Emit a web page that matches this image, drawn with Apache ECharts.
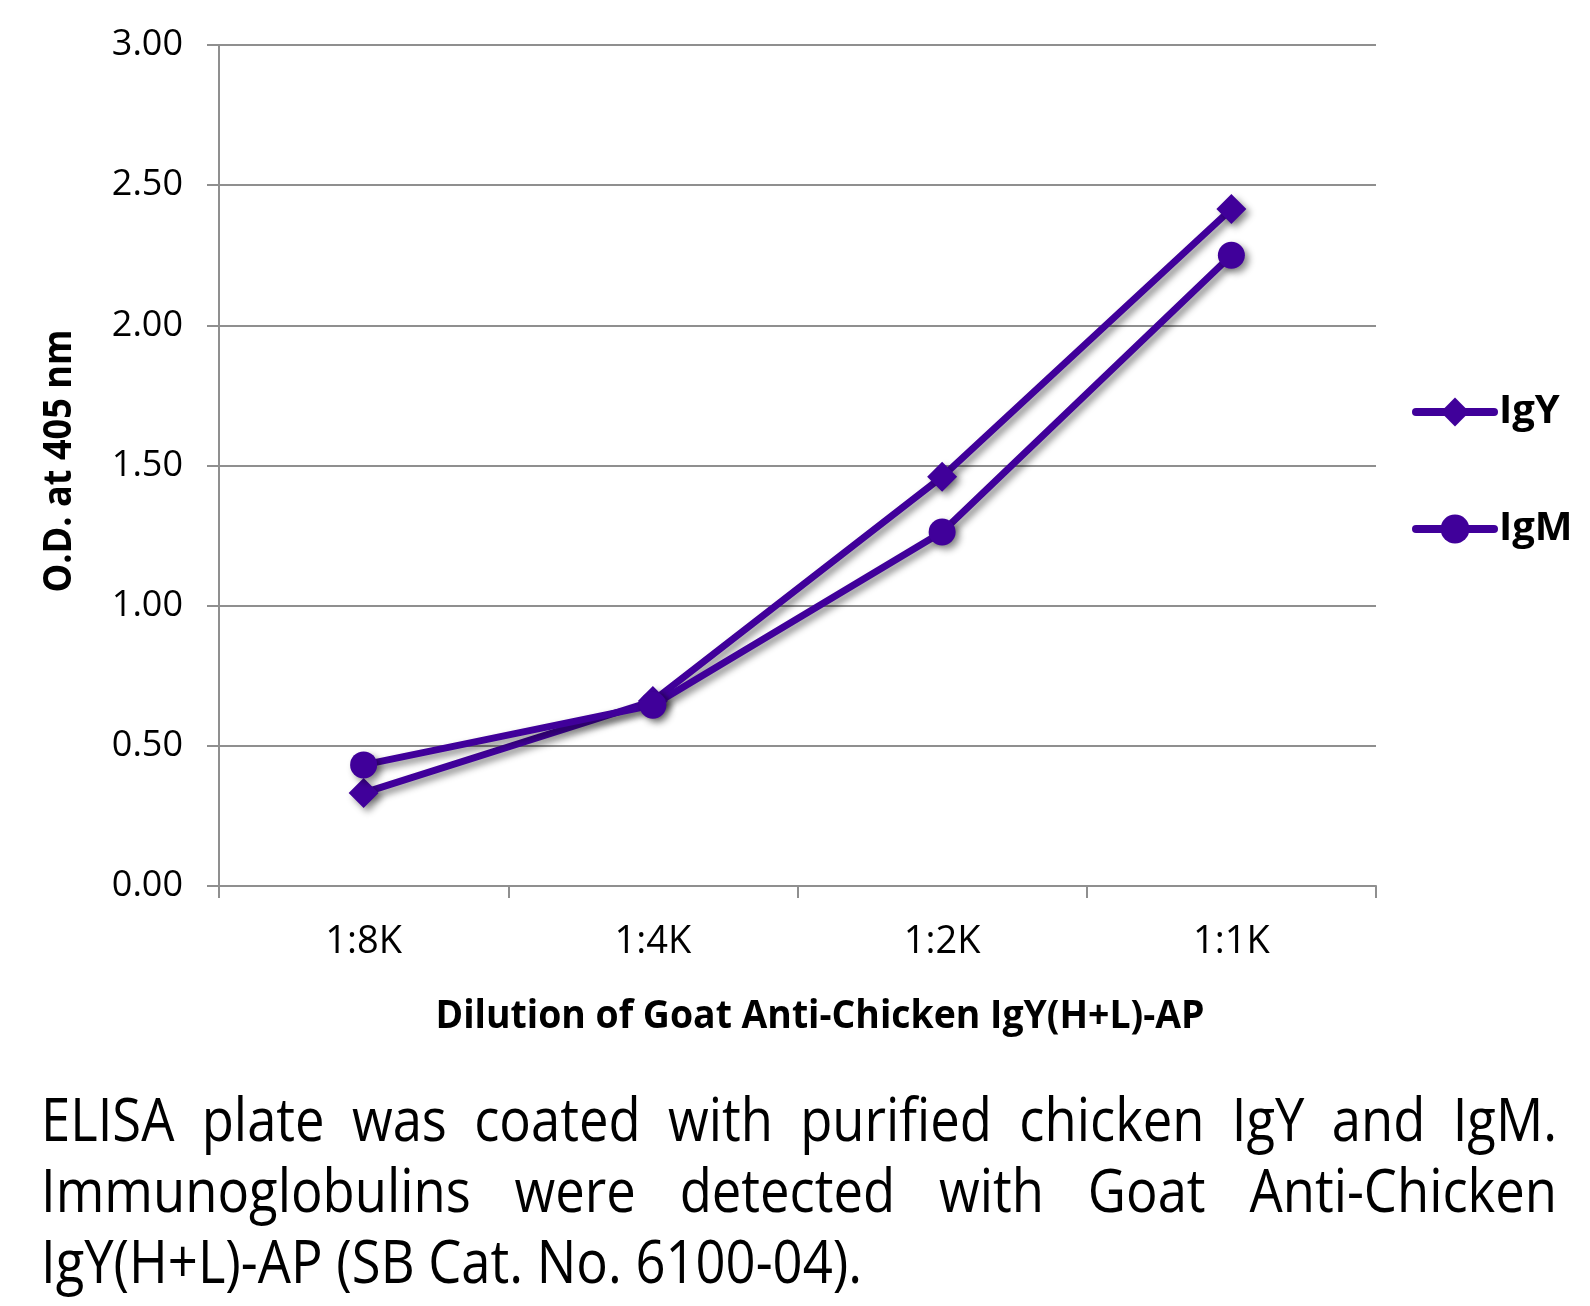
<!DOCTYPE html>
<html><head><meta charset="utf-8">
<script src="https://cdn.jsdelivr.net/npm/echarts@6/dist/echarts.min.js"></script>
<style>
html,body{margin:0;padding:0;background:#fff;}
#chart{position:absolute;left:0;top:0;width:1590px;height:1306px;}
.cap{position:absolute;left:41px;font-family:"Open Sans";font-size:60px;line-height:71px;color:#000;white-space:nowrap;transform-origin:0 0;}
.just{text-align:justify;text-align-last:justify;}
</style></head><body>
<div id="chart"></div>
<div id="caption"></div>
<script>
// ---- data ----
const categories = ['1:8K', '1:4K', '1:2K', '1:1K'];
const igYValues = [0.332, 0.66, 1.46, 2.415];
const igMValues = [0.432, 0.645, 1.263, 2.25];
const seriesNames = ['IgY', 'IgM'];
const yMin = 0, yMax = 3, yStep = 0.5;
const xTitle = 'Dilution of Goat Anti-Chicken IgY(H+L)-AP';
const yTitle = 'O.D. at 405 nm';
const captionLines = [
  'ELISA plate was coated with purified chicken IgY and IgM.',
  'Immunoglobulins were detected with Goat Anti-Chicken',
  'IgY(H+L)-AP (SB Cat. No. 6100-04).'
];

// ---- helpers ----
const cv = document.createElement('canvas').getContext('2d');
function measure(text, font) { cv.font = font; return cv.measureText(text).width; }

const LINE = '#40009a';
const GRAY = '#8f8f8f';
const titleFont = 'bold 40px "Open Sans"';
const sxX = 769 / measure(xTitle, titleFont);
const sxY = 263 / measure(yTitle, titleFont);

// ---- caption ----
const capFont = '60px "Open Sans"';
const capScale = 821 / measure(captionLines[2], capFont);
const capWidth = 1516;
const capHolder = document.getElementById('caption');
captionLines.forEach((t, i) => {
  const d = document.createElement('div');
  d.className = 'cap' + (i < 2 ? ' just' : '');
  d.textContent = t;
  d.style.top = (1083 + i * 71) + 'px';
  d.style.width = (capWidth / capScale) + 'px';
  d.style.transform = 'scaleX(' + capScale + ')';
  capHolder.appendChild(d);
});

// ---- chart ----
const chart = echarts.init(document.getElementById('chart'), null, { renderer: 'canvas' });
const shadow = { shadowColor: 'rgba(0,0,0,0.45)', shadowBlur: 7, shadowOffsetX: 4, shadowOffsetY: 4 };
function mkSeries(name, data, symbol, size) {
  return {
    name, type: 'line', data, symbol, symbolSize: size,
    lineStyle: Object.assign({ color: LINE, width: 7 }, shadow),
    itemStyle: Object.assign({ color: LINE, borderWidth: 0 }, shadow),
    emphasis: { disabled: true },
    z: 3
  };
}
chart.setOption({
  animation: false,
  grid: { left: 219, right: 214, top: 45, bottom: 420, containLabel: false },
  xAxis: {
    type: 'category', data: categories, boundaryGap: true,
    axisLine: { show: true, lineStyle: { color: GRAY, width: 2 } },
    axisTick: { show: true, length: 12, lineStyle: { color: GRAY, width: 2 } },
    axisLabel: { fontFamily: 'Open Sans', fontSize: 38, color: '#000', margin: 37 },
    splitLine: { show: false }
  },
  yAxis: {
    type: 'value', min: yMin, max: yMax, interval: yStep,
    axisLine: { show: true, lineStyle: { color: GRAY, width: 2 } },
    axisTick: { show: true, length: 12, lineStyle: { color: GRAY, width: 2 } },
    axisLabel: { fontFamily: 'Open Sans', fontSize: 36, color: '#000', margin: 36,
      formatter: v => v.toFixed(2) },
    splitLine: { show: true, lineStyle: { color: GRAY, width: 2 } }
  },
  legend: {
    orient: 'vertical', left: 1412, top: 392, padding: 0,
    itemWidth: 78, itemHeight: 36, itemGap: 77,
    textStyle: { fontFamily: 'Open Sans', fontWeight: 'bold', fontSize: 40, color: '#000', lineHeight: 36 },
    itemStyle: { shadowBlur: 0, shadowColor: 'rgba(0,0,0,0)', shadowOffsetX: 0, shadowOffsetY: 0 },
    lineStyle: { width: 8, cap: 'round', shadowBlur: 0, shadowColor: 'rgba(0,0,0,0)', shadowOffsetX: 0, shadowOffsetY: 0 },
    data: seriesNames,
    selectedMode: false
  },
  series: [
    mkSeries(seriesNames[0], igYValues, 'diamond', 30),
    mkSeries(seriesNames[1], igMValues, 'circle', 27)
  ],
  graphic: [
    { type: 'text', x: 820, y: 1017, scaleX: sxX,
      style: { text: xTitle, font: titleFont, fill: '#000', align: 'center', verticalAlign: 'middle' } },
    { type: 'text', x: 60, y: 461, rotation: Math.PI / 2, scaleX: sxY,
      style: { text: yTitle, font: titleFont, fill: '#000', align: 'center', verticalAlign: 'middle' } }
  ]
});
</script>
</body></html>
